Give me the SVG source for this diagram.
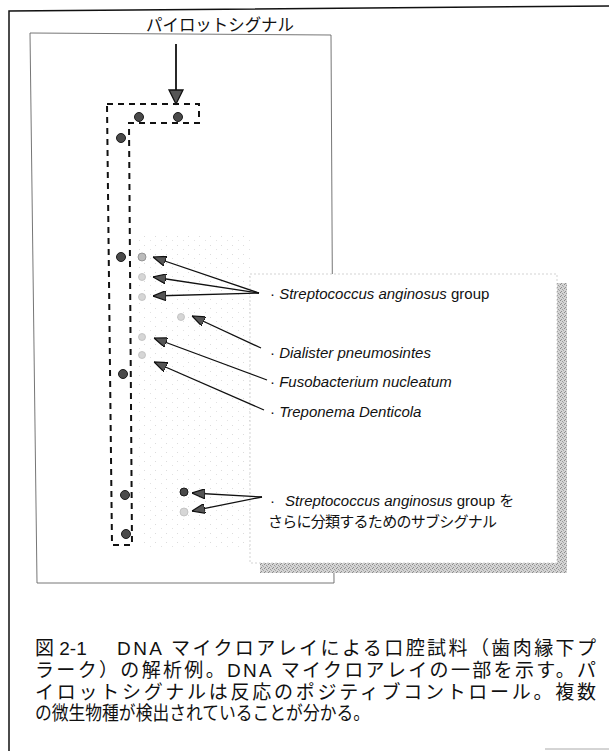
<svg xmlns="http://www.w3.org/2000/svg" width="609" height="751" viewBox="0 0 609 751">
<style>
.lbl{font-family:"Liberation Sans","Noto Sans CJK JP",sans-serif;font-size:15px;fill:#111}
.it{font-style:italic}
.jp{font-family:"Noto Sans CJK JP","Liberation Sans",sans-serif;fill:#111}
.cap{font-family:"Liberation Sans","Noto Sans CJK JP",sans-serif;font-size:19px;fill:#111}
.dash{fill:none;stroke:#111;stroke-width:2;stroke-dasharray:6 5}
.con{stroke:#111;stroke-width:1.3;fill:none;marker-end:url(#ah)}
.dot{fill:#4a4a4a;stroke:#1a1a1a;stroke-width:1}
.faint{fill:#d6d6d6;stroke:#bdbdbd;stroke-width:0.8}
</style>
<defs>
<marker id="ah" viewBox="0 0 13 10" refX="13" refY="5" markerWidth="13" markerHeight="10" markerUnits="userSpaceOnUse" orient="auto">
<path d="M0,0 L13,5 L0,10 z" fill="#555" stroke="#111" stroke-width="1.2"/>
</marker>
<pattern id="stip" width="4" height="4" patternUnits="userSpaceOnUse">
<rect width="4" height="4" fill="#d4d4d4"/>
<rect x="0" y="0" width="1" height="1" fill="#8a8a8a"/>
<rect x="2" y="1" width="1" height="1" fill="#9a9a9a"/>
<rect x="1" y="3" width="1" height="1" fill="#909090"/>
<rect x="3" y="2" width="1" height="1" fill="#a8a8a8"/>
</pattern>
<pattern id="speck" width="11" height="9" patternUnits="userSpaceOnUse">
<rect x="1" y="2" width="1" height="1" fill="#dcdcdc"/>
<rect x="7" y="6" width="1" height="1" fill="#e2e2e2"/>
</pattern>
</defs>

<g id="frame">
<path d="M9,751 L9,11 L609,6" fill="none" stroke="#111" stroke-width="1.5"/>
<line x1="545" y1="749" x2="609" y2="749" stroke="#aaa" stroke-width="1"/>
</g>

<g id="panel">
<path d="M30,33 L331,35 L334,583 L37,583 Z" fill="#fff" stroke="#666" stroke-width="0.9"/>
<path d="M138,232 L250,232 L250,548 L140,548 Z" fill="url(#speck)"/>
</g>

<g id="pilot-label">
<text x="146" y="31" class="jp" font-size="17" textLength="148" lengthAdjust="spacingAndGlyphs">パイロットシグナル</text>
</g>

<g id="pilot-box">
<path class="dash" d="M107,104 L199,104 L199,123 L129,123 L132,545 L112,545 Z"/>
</g>

<g id="spots">
<circle class="dot" cx="139" cy="117" r="4.5"/>
<circle class="dot" cx="178" cy="117" r="4.5"/>
<circle class="dot" cx="121" cy="138" r="4.5"/>
<circle class="dot" cx="121" cy="257" r="4.5"/>
<circle class="dot" cx="123" cy="374" r="4.5"/>
<circle class="dot" cx="125" cy="495" r="4.5"/>
<circle class="dot" cx="126" cy="534" r="4.5"/>
<circle cx="142" cy="257" r="4" fill="#bbb" stroke="#888" stroke-width="0.8"/>
<circle class="faint" cx="142" cy="277" r="3.5"/>
<circle class="faint" cx="142" cy="297" r="3.5"/>
<circle class="faint" cx="181" cy="317" r="3.5"/>
<circle class="faint" cx="142" cy="337" r="3.5"/>
<circle class="faint" cx="142" cy="355" r="3.5"/>
<circle class="dot" cx="184" cy="492" r="4"/>
<circle class="faint" cx="184" cy="512" r="4"/>
</g>

<g id="label-box">
<rect x="557" y="283" width="10" height="290" fill="url(#stip)"/>
<rect x="260" y="563" width="307" height="10" fill="url(#stip)"/>
<rect x="250" y="274" width="307" height="289" fill="#fff" stroke="#c8c8c8" stroke-width="0.8" stroke-dasharray="2 2"/>
</g>

<g id="connectors">
<line class="con" x1="259" y1="293" x2="153" y2="257"/>
<line class="con" x1="259" y1="293" x2="153" y2="277"/>
<line class="con" x1="259" y1="293" x2="153" y2="296"/>
<line class="con" x1="261" y1="348" x2="192" y2="316"/>
<line class="con" x1="267" y1="380" x2="154" y2="338"/>
<line class="con" x1="264" y1="410" x2="154" y2="362"/>
<line class="con" x1="262" y1="497" x2="192" y2="493"/>
<line class="con" x1="262" y1="497" x2="192" y2="511"/>
<line x1="176" y1="44" x2="176" y2="92" stroke="#111" stroke-width="1.8"/>
<path d="M169,90 L183,90 L176,104 Z" fill="#555" stroke="#111" stroke-width="1.3"/>
</g>

<g id="label-strep">
<text class="lbl" x="270" y="299">· <tspan class="it">Streptococcus anginosus</tspan> group</text>
</g>
<g id="label-dialister">
<text class="lbl" x="270" y="358">· <tspan class="it">Dialister pneumosintes</tspan></text>
</g>
<g id="label-fuso">
<text class="lbl" x="270" y="387">· <tspan class="it">Fusobacterium nucleatum</tspan></text>
</g>
<g id="label-trepo">
<text class="lbl" x="270" y="417">· <tspan class="it">Treponema Denticola</tspan></text>
</g>
<g id="label-sub">
<text class="lbl" x="270" y="506">·  <tspan x="285" class="it">Streptococcus anginosus</tspan> group を</text>
<text class="lbl" x="268" y="527" textLength="229">さらに分類するためのサブシグナル</text>
</g>

<g id="caption">
<text class="cap" x="35" y="655">図 2-1</text>
<text class="cap" x="117" y="655" textLength="479">DNA マイクロアレイによる口腔試料（歯肉縁下プ</text>
<text class="cap" x="35" y="677" textLength="561">ラーク）の解析例。DNA マイクロアレイの一部を示す。パ</text>
<text class="cap" x="35" y="699" textLength="561">イロットシグナルは反応のポジティブコントロール。複数</text>
<text class="cap" x="35" y="720" textLength="335" lengthAdjust="spacingAndGlyphs">の微生物種が検出されていることが分かる。</text>
</g>
</svg>
